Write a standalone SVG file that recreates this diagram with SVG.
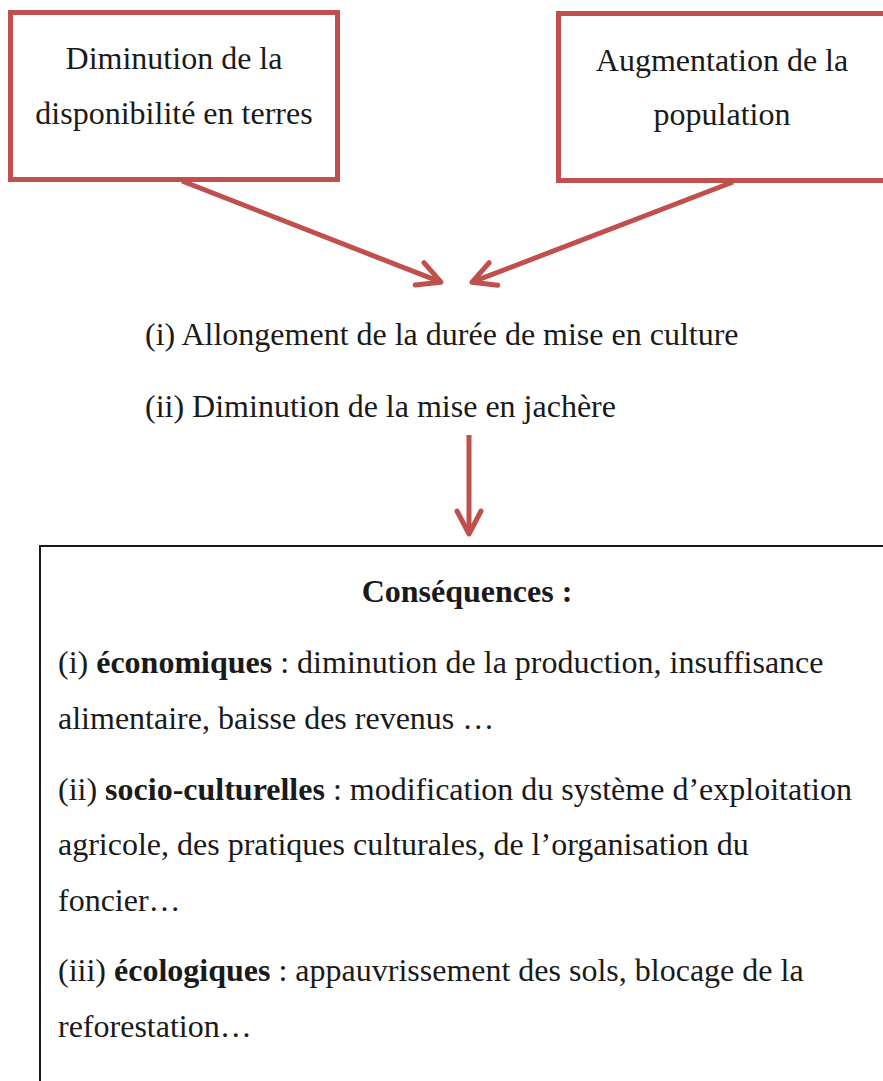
<svg xmlns="http://www.w3.org/2000/svg" width="883" height="1081" viewBox="0 0 883 1081">
<style>
text{font-family:"Liberation Serif","Times New Roman",serif;font-size:32px;fill:#1a1a1a}
.c{text-anchor:middle}
.b{font-weight:bold}
.redbox{fill:#fff;stroke:#c0504d;stroke-width:5}
.conn{stroke:#c0504d;stroke-width:5;fill:none}
</style>
<defs>
<marker id="chev" markerUnits="userSpaceOnUse" viewBox="-30 -16 34 32" refX="0" refY="0" markerWidth="34" markerHeight="32" orient="auto" overflow="visible">
<path d="M-23 -12 L0 0 L-23 12" fill="none" stroke="#c0504d" stroke-width="5" stroke-linecap="round" stroke-linejoin="round"/>
</marker>
</defs>
<rect width="883" height="1081" fill="#fff"/>
<g id="node-disponibilite">
<rect class="redbox" x="10.5" y="12.5" width="327" height="167"/>
<text class="c" x="174" y="69">Diminution de la</text>
<text class="c" x="174" y="124">disponibilité en terres</text>
</g>
<g id="node-population">
<rect class="redbox" x="558.5" y="13.5" width="330" height="167"/>
<text class="c" x="722" y="71">Augmentation de la</text>
<text class="c" x="722" y="125">population</text>
</g>
<g id="node-effets">
<text x="145" y="345">(i) Allongement de la durée de mise en culture</text>
<text x="145" y="417">(ii) Diminution de la mise en jachère</text>
</g>
<g id="node-consequences">
<path d="M40 1085 V546 H890" fill="none" stroke="#1a1a1a" stroke-width="2"/>
<text class="c b" x="467" y="602">Conséquences :</text>
<text x="58" y="673">(i) <tspan class="b">économiques</tspan> : diminution de la production, insuffisance</text>
<text x="58" y="729">alimentaire, baisse des revenus …</text>
<text x="58" y="800">(ii) <tspan class="b">socio-culturelles</tspan> : modification du système d’exploitation</text>
<text x="58" y="855">agricole, des pratiques culturales, de l’organisation du</text>
<text x="58" y="911">foncier…</text>
<text x="58" y="981">(iii) <tspan class="b">écologiques</tspan> : appauvrissement des sols, blocage de la</text>
<text x="58" y="1037">reforestation…</text>
</g>
<g id="connectors">
<line class="conn" x1="182" y1="181" x2="441" y2="282.2" marker-end="url(#chev)"/>
<line class="conn" x1="733" y1="182" x2="472" y2="282.2" marker-end="url(#chev)"/>
<line class="conn" x1="469" y1="435" x2="469" y2="534" marker-end="url(#chev)"/>
</g>
</svg>
